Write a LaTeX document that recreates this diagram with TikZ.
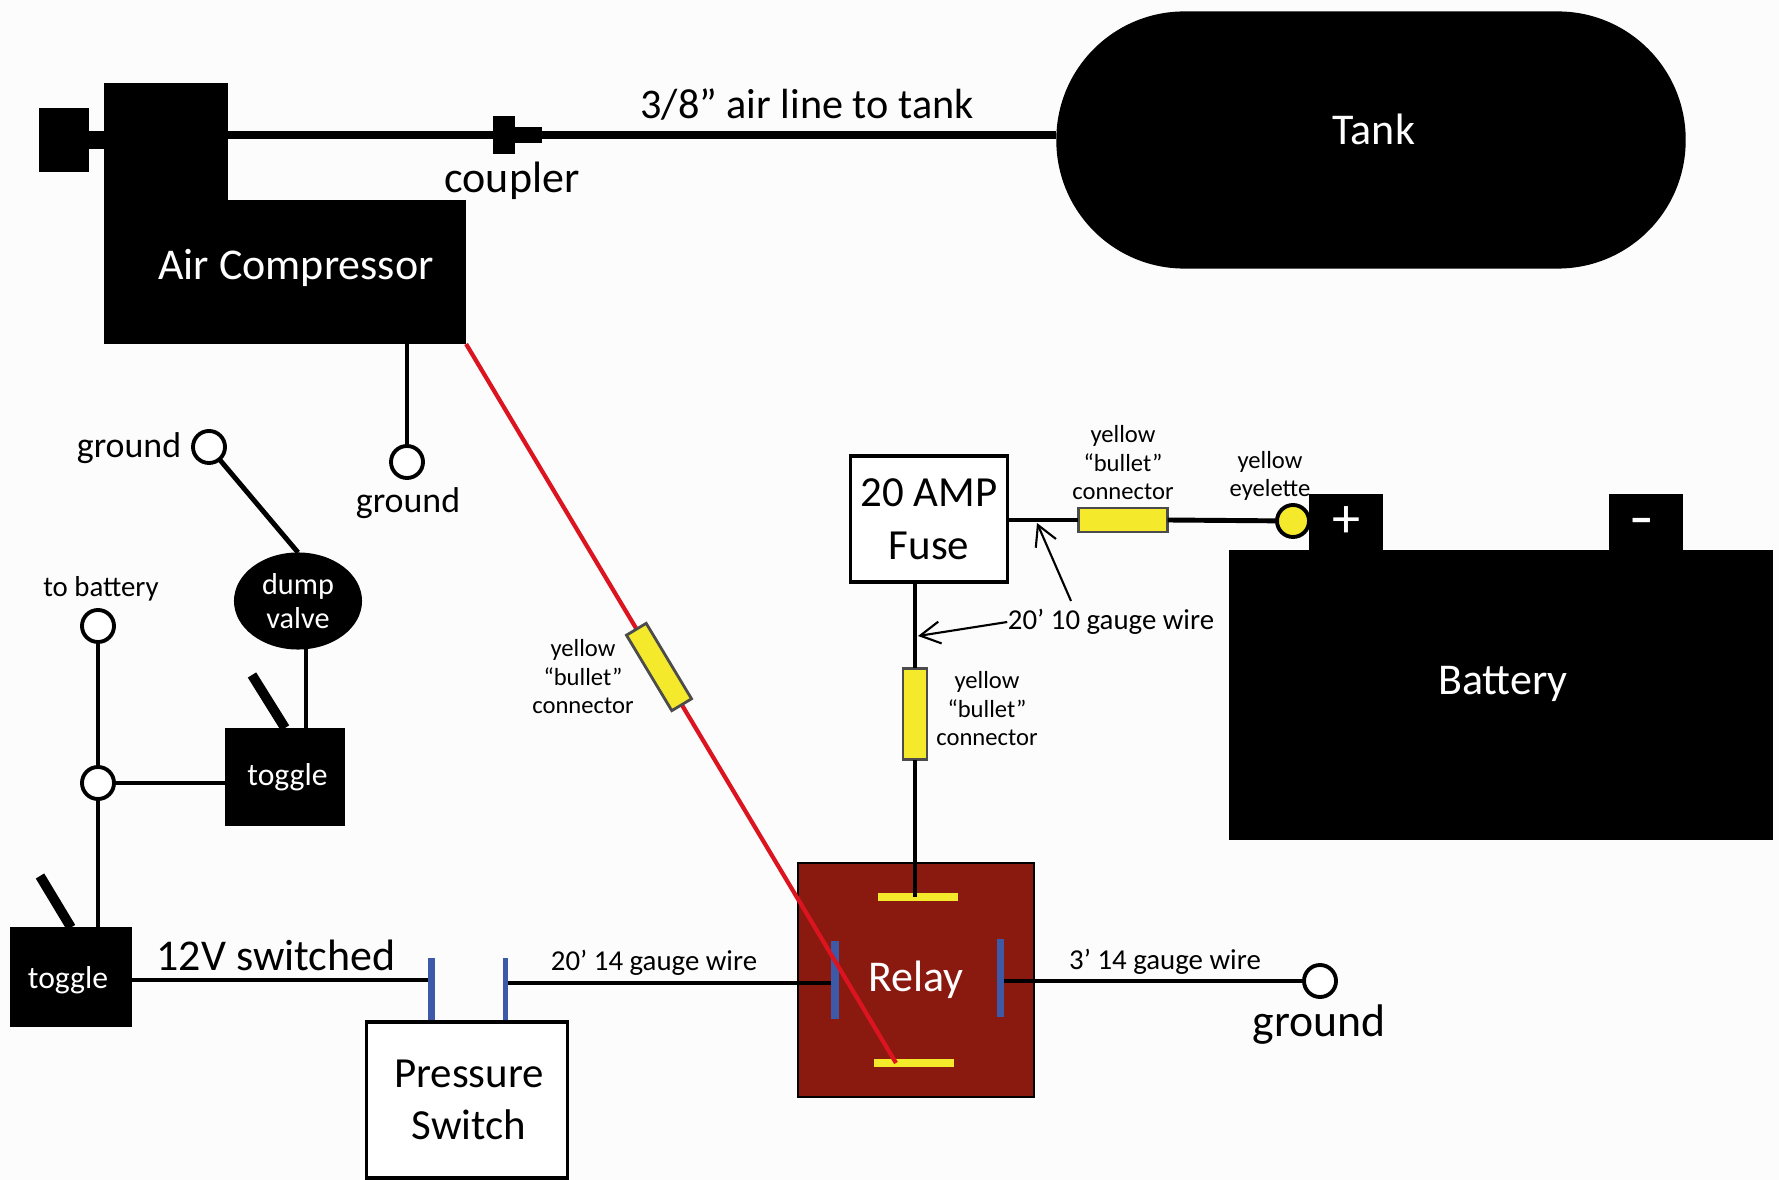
\documentclass[tikz,border=0pt]{standalone}
\usepackage{fontspec}
\setmainfont{Carlito}
\usetikzlibrary{arrows.meta,positioning,calc,shapes.geometric}
\definecolor{relayred}{HTML}{8A1A10}
\definecolor{wirered}{HTML}{DC1420}
\definecolor{bulletyellow}{HTML}{F5E92C}
\definecolor{barblue}{HTML}{3D5AA8}
\tikzset{
    blackbox/.style={fill=black,text=white,inner sep=0pt,outer sep=0pt},
    whitebox/.style={draw=black,fill=white,line width=1pt,inner sep=0pt,outer sep=0pt,align=center},
    bullet/.style={draw=black!70,fill=bulletyellow,line width=0.8pt,inner sep=0pt,outer sep=0pt},
    bluebar/.style={fill=barblue,inner sep=0pt,outer sep=0pt,minimum height=0.63cm},
    yellowbar/.style={fill=bulletyellow,inner sep=0pt,outer sep=0pt,minimum width=0.79cm,minimum height=0.08cm},
    terminal/.style={draw=black,fill=white,circle,line width=1.1pt,inner sep=0pt,outer sep=0pt,minimum size=0.32cm},
    wire/.style={draw=black,line width=1.4pt},
    lever/.style={draw=black,line width=2.8pt},
    hugetext/.style={font=\fontsize{12.5}{15}\selectfont},
    bigtext/.style={font=\fontsize{12.5}{15}\selectfont,align=center},
    smalltext/.style={font=\fontsize{7}{8.1}\selectfont,align=center},
    midtext/.style={font=\fontsize{8.2}{9.6}\selectfont,align=center},
    groundtext/.style={font=\fontsize{10.2}{12}\selectfont},
    barb/.style={-{Straight Barb[length=0.2cm,width=0.22cm]},line width=0.6pt},
}
\begin{document}
\begin{tikzpicture}[x=0.01cm,y=-0.01cm]
    \useasboundingbox[fill=white!99!black] (0,0) rectangle (1779,1180);

    \node [blackbox,minimum width=3.62cm,minimum height=1.44cm] (comp) at (285,272) {};
    \node [blackbox,minimum width=1.24cm,minimum height=1.2cm] (comphead) at (166,143) {};
    \node [blackbox,minimum width=0.5cm,minimum height=0.64cm] (knob) at (64,140) {};
    \node [text=white,hugetext] (complabel) at (296,268) {Air Compressor};
    \node [blackbox,minimum width=6.29cm,minimum height=2.57cm,rounded corners=1.28cm] (tank) at (1371,140) {};
    \node [text=white,hugetext] (tanklabel) at (1374,129) {Tank};
    \node [blackbox,minimum width=0.22cm,minimum height=0.38cm] (coupler) at (504,135) {};
    \node [blackbox,minimum width=0.28cm,minimum height=0.16cm] (couplertail) at (528,135) {};
    \node [bigtext] (couplerlabel) at (512,181) {coupler};
    \node [font=\fontsize{12}{15}\selectfont] (airlabel) at (807,105) {3/8" air line to tank};

    \node [terminal] (groundc) at (407,462) {};
    \node [groundtext] (groundclabel) at (408,503) {ground};
    \node [terminal] (groundv) at (209,447) {};
    \node [groundtext] (groundvlabel) at (129,448) {ground};
    \node [blackbox,ellipse,minimum width=1.28cm,minimum height=0.97cm,align=center,font=\fontsize{8.6}{9.7}\selectfont] (valve) at (298,601) {dump\\valve};
    \node [blackbox,minimum width=1.2cm,minimum height=0.98cm,font=\fontsize{9}{10}\selectfont] (toggleone) at (285,777) {\hspace{0.05cm}toggle};
    \node [blackbox,minimum width=1.21cm,minimum height=0.99cm,font=\fontsize{9}{10}\selectfont] (toggletwo) at (71,977) {};
    \node [text=white,font=\fontsize{9}{10}\selectfont] (toggletwolabel) at (68,980) {toggle};
    \node [terminal] (tobatt) at (98,626) {};
    \node [midtext] (tobattlabel) at (101,589) {to battery};
    \node [terminal] (junction) at (98,783) {};
    \coordinate (leverone) at (252,675);
    \coordinate (levertwo) at (40,876);
    \coordinate (valvefoot) at (306,640);

    \node [hugetext] (switchedlabel) at (276,955) {12V switched};
    \node [bluebar,minimum width=0.07cm] (barone) at (431,990) {};
    \node [bluebar,minimum width=0.05cm] (bartwo) at (505,990) {};
    \node [whitebox,minimum width=2.01cm,minimum height=1.56cm,font=\fontsize{12.2}{14.8}\selectfont] (pswitch) at (467,1100) {\hspace{0.04cm}Pressure\\\hspace{0.04cm}Switch};

    \node [draw=black,fill=relayred,text=white,line width=0.8pt,inner sep=0pt,minimum width=2.36cm,minimum height=2.34cm,hugetext] (relay) at (916,980) {Relay};
    \node [yellowbar] (relaytop) at (918,897) {};
    \node [yellowbar] (relaybot) at (914,1063) {};
    \node [bluebar,minimum width=0.08cm,minimum height=0.77cm] (relayleft) at (835,980) {};
    \node [bluebar,minimum width=0.07cm,minimum height=0.78cm] (relayright) at (1000,978) {};
    \coordinate (redend) at (896,1063);
    \draw [wirered,line width=1.2pt] (comp.south east) -- (redend);
    \node [bullet,rotate=-59,minimum width=0.88cm,minimum height=0.23cm] (redbullet) at (659,667) {};
    \node [smalltext] (redlabel) at (583,677) {yellow\\``bullet''\\connector};

    \node [whitebox,minimum width=1.57cm,minimum height=1.26cm,font=\fontsize{12.2}{15}\selectfont] (fuse) at (929,519) {20 AMP\\Fuse};
    \node [bullet,minimum width=0.89cm,minimum height=0.24cm] (hbullet) at (1123,520) {};
    \node [smalltext] (hbulletlabel) at (1123,463) {yellow\\``bullet''\\connector};
    \node [bullet,minimum width=0.24cm,minimum height=0.91cm] (vbullet) at (915,714) {};
    \node [smalltext] (vbulletlabel) at (987,709) {yellow\\``bullet''\\connector};
    \node [blackbox,minimum width=5.43cm,minimum height=2.9cm] (battery) at (1501,695) {};
    \node [blackbox,minimum width=0.73cm,minimum height=0.55cm,font=\fontsize{16}{16}\selectfont] (plus) at (1346,522) {+};
    \node [blackbox,minimum width=0.74cm,minimum height=0.55cm] (minus) at (1646,522) {};
    \node [text=white,font=\fontsize{14}{16}\bfseries] (minuslabel) at (1642,526) {--};
    \node [text=white,hugetext] (batterylabel) at (1503,684) {Battery};
    \node [terminal,fill=bulletyellow] (eyelet) at (1293,521) {};
    \node [smalltext] (eyeletlabel) at (1270,476) {yellow\\eyelette};
    \node [midtext,inner xsep=0pt] (gaugelabel) at (1111,622) {20' 10 gauge wire};
    \node [midtext] (lowwire) at (654,963) {20' 14 gauge wire};
    \node [midtext] (rightwire) at (1165,962) {3' 14 gauge wire};
    \node [terminal] (groundr) at (1320,981) {};
    \node [font=\fontsize{13}{15}\selectfont] (groundrlabel) at (1319,1025) {ground};
    \coordinate (gaugeup) at (1071,601);
    \coordinate (gaugeuptip) at (1037,523);
    \coordinate (gaugelefttip) at (918,636);
    \coordinate (ysw) at (0,980);
    \coordinate (yrl) at (0,983);

    \draw [wire,line width=2pt] (comphead.east |- coupler) -- (coupler.west);
    \draw [wire,line width=2pt] (couplertail.east) -- (tank.west |- coupler);
    \draw [wire,line width=5pt] (knob.east) -- (comphead.west |- knob);
    \draw [wire] (comp.south -| groundc) -- (groundc);
    \draw [wire] (groundv) -- (valve.north);
    \draw [wire] (valvefoot) -- (valvefoot |- toggleone.north);
    \draw [lever] (leverone) -- (toggleone.north);
    \draw [lever] (levertwo) -- (toggletwo.north);
    \draw [wire] (tobatt) -- (junction);
    \draw [wire] (junction) -- (junction |- toggletwo.north);
    \draw [wire] (junction) -- (toggleone.west |- junction);
    \draw [wire,line width=1.1pt] (toggletwo.east |- ysw) -- (barone.west |- ysw);
    \draw [wire] (bartwo.east |- yrl) -- (relayleft.west |- yrl);
    \draw [wire] (relayright.east |- groundr) -- (groundr);
    \draw [wire] (fuse.south -| vbullet) -- (vbullet.north);
    \draw [wire] (vbullet.south) -- (vbullet.south |- relaytop);
    \draw [wire] (fuse.east |- hbullet) -- (hbullet.west);
    \draw [wire] (hbullet.east) -- (eyelet);
    \draw [barb] (gaugeup) -- (gaugeuptip);
    \draw [barb] (gaugelabel.west) -- (gaugelefttip);
\end{tikzpicture}
\end{document}
